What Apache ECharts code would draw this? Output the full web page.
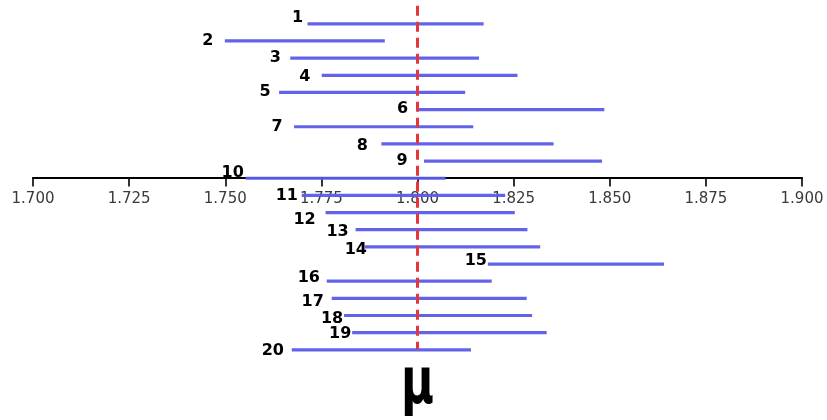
<!DOCTYPE html>
<html>
<head>
<meta charset="utf-8">
<script src="https://cdn.jsdelivr.net/npm/echarts@6/dist/echarts.min.js"></script>
<style>
html,body{margin:0;padding:0;background:#fff;}
#main{width:827px;height:420px;}
</style>
</head>
<body>
<div id="main"></div>
<script>
// ---- data ----
const sampleLabels = ['1','2','3','4','5','6','7','8','9','10','11','12','13','14','15','16','17','18','19','20'];
const lowerBounds = [1.7714,1.7499,1.7669,1.7751,1.7640,1.8000,1.7679,1.7906,1.8017,1.7553,1.7699,1.7761,1.7839,1.7863,1.8183,1.7764,1.7777,1.7809,1.7830,1.7673];
const upperBounds = [1.8172,1.7915,1.8160,1.8260,1.8124,1.8486,1.8145,1.8354,1.8480,1.8073,1.8228,1.8253,1.8286,1.8319,1.8641,1.8193,1.8284,1.8298,1.8336,1.8139];
const mu = 1.8;
const xMin = 1.7, xMax = 1.9, xStep = 0.025;

// label offsets (px) relative to the left end of each interval
const labelDx = [-10,-17,-15,-17,-14,-15,-17,-19,-22,-13,-15,-21,-18,-9,-12,-18,-19,-12,-12,-19];
const labelDy = [-5,1,1,2,0,0,1,3,1,-5,1,8,3,4,-2,-3,4,4,2,2];

const chart = echarts.init(document.getElementById('main'), null, {renderer:'canvas'});

const intervalData = sampleLabels.map((lab, i) => [lowerBounds[i], upperBounds[i], 10 - (i + 1), lab, i]);

const option = {
  animation: false,
  backgroundColor: '#ffffff',
  grid: {left: 33, right: 25, top: 5.84, bottom: 53.8},
  xAxis: {
    type: 'value', min: xMin, max: xMax, interval: xStep,
    position: 'bottom', offset: -188.8,
    splitLine: {show: false},
    axisLine: {onZero: false, lineStyle: {color: '#000', width: 2}},
    axisTick: {show: true, length: 9, lineStyle: {color: '#000', width: 1.6}},
    axisLabel: {margin: 14, color: '#3a3a3a', fontSize: 15, fontFamily: 'DejaVu Sans',
      formatter: v => v.toFixed(3)}
  },
  yAxis: {type: 'value', min: -11, max: 10, show: false, splitLine: {show: false}},
  series: [
    {
      type: 'custom',
      z: 3,
      data: intervalData,
      clip: false,
      renderItem: function (params, api) {
        const lo = api.coord([api.value(0), api.value(2)]);
        const hi = api.coord([api.value(1), api.value(2)]);
        const idx = api.value(4);
        return {
          type: 'group',
          children: [
            {type: 'line', shape: {x1: lo[0], y1: lo[1] + 0.8, x2: hi[0], y2: hi[1] + 0.8},
             style: {stroke: '#5b5be8', lineWidth: 3.2, opacity: 0.95}},
            {type: 'text', x: lo[0] + labelDx[idx], y: lo[1] + labelDy[idx],
             style: {text: sampleLabels[idx], fill: '#000', font: 'bold 16px "DejaVu Sans"',
                     textAlign: 'center', textVerticalAlign: 'middle'}}
          ]
        };
      }
    },
    {
      type: 'line',
      z: 4,
      symbol: 'none',
      data: [[mu, 10], [mu, -10]],
      lineStyle: {color: '#e2373c', width: 3, type: [10, 6]}
    }
  ]
};
chart.setOption(option);

const muPix = chart.convertToPixel({gridIndex: 0}, [mu, -10]);
chart.setOption({
  graphic: [{
    type: 'text', x: muPix[0], y: muPix[1] + 37, scaleX: 0.7,
    style: {text: 'μ', fill: '#000', font: 'bold 64px "DejaVu Sans"', textAlign: 'center', textVerticalAlign: 'middle'}
  }]
});
</script>
</body>
</html>
